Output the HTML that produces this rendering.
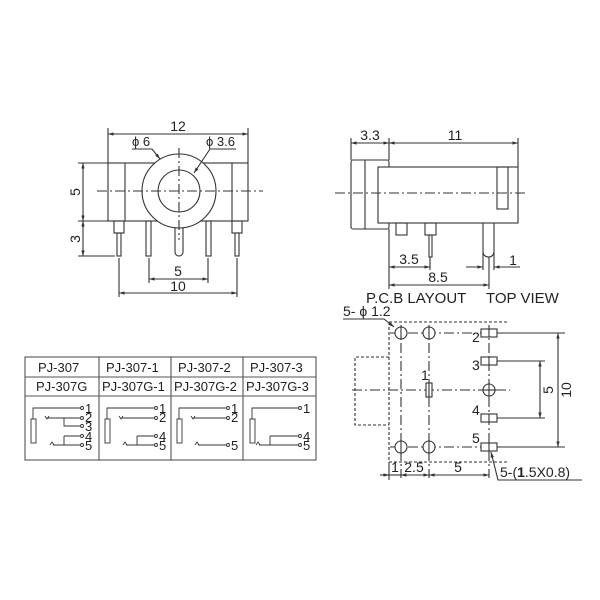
<!DOCTYPE html>
<html><head><style>body{margin:0;background:#fff}svg{display:block}</style></head><body>
<svg width="600" height="600" viewBox="0 0 600 600" xmlns="http://www.w3.org/2000/svg" font-family="Liberation Sans, sans-serif" fill="none" stroke="#333" stroke-width="1.1">
<defs>
<marker id="a" viewBox="0 0 10 10" refX="10" refY="5" markerWidth="7" markerHeight="5" orient="auto-start-reverse"><path d="M0,2 L10,5 L0,8z" fill="#333" stroke="none"/></marker>
</defs>
<rect width="600" height="600" fill="#fff" stroke="none"/>
<!-- FRONT VIEW -->
<g>
<rect x="108" y="163" width="140" height="58" fill="none"/>
<line x1="125" y1="163" x2="125" y2="221"/><line x1="232" y1="163" x2="232" y2="221"/>
<circle cx="179" cy="191" r="37" fill="#fff"/>
<circle cx="179" cy="191" r="21"/>
<line x1="97" y1="191" x2="263" y2="191" stroke-dasharray="10,3,2,3"/>
<line x1="179" y1="148" x2="179" y2="240" stroke-dasharray="10,3,2,3"/>
<rect x="114" y="221" width="10" height="12"/><rect x="117" y="233" width="4" height="23"/>
<rect x="232" y="221" width="10" height="12"/><rect x="235" y="233" width="4" height="23"/>
<rect x="146" y="221" width="5" height="35"/><rect x="206" y="221" width="5" height="35"/>
<path d="M175,228 V252 A4,4 0 0 0 183,252 V228"/>
<line x1="108" y1="163" x2="108" y2="128"/><line x1="248" y1="163" x2="248" y2="128"/>
<line x1="108" y1="134" x2="248" y2="134" marker-start="url(#a)" marker-end="url(#a)"/>
<text x="178" y="131" font-size="14" fill="#222" stroke="none" text-anchor="middle">12</text>
<line x1="78" y1="163" x2="108" y2="163"/><line x1="78" y1="221" x2="108" y2="221"/><line x1="78" y1="256" x2="115" y2="256"/>
<line x1="83" y1="163" x2="83" y2="221" marker-start="url(#a)" marker-end="url(#a)"/>
<line x1="83" y1="221" x2="83" y2="256" marker-start="url(#a)" marker-end="url(#a)"/>
<text x="80" y="192" font-size="14" fill="#222" stroke="none" text-anchor="middle" transform="rotate(-90 80 192)">5</text>
<text x="80" y="239" font-size="14" fill="#222" stroke="none" text-anchor="middle" transform="rotate(-90 80 239)">3</text>
<line x1="149" y1="258" x2="149" y2="283"/><line x1="208" y1="258" x2="208" y2="283"/>
<line x1="119" y1="258" x2="119" y2="297"/><line x1="237" y1="258" x2="237" y2="297"/>
<line x1="149" y1="279" x2="208" y2="279" marker-start="url(#a)" marker-end="url(#a)"/>
<line x1="119" y1="293" x2="237" y2="293" marker-start="url(#a)" marker-end="url(#a)"/>
<text x="178" y="276" font-size="14" fill="#222" stroke="none" text-anchor="middle">5</text>
<text x="178" y="291" font-size="14" fill="#222" stroke="none" text-anchor="middle">10</text>
<text x="132" y="146" font-size="13" fill="#222" stroke="none">ϕ 6</text>
<path d="M132,149 H152 L160,159" marker-end="url(#a)"/>
<text x="206" y="146" font-size="13" fill="#222" stroke="none">ϕ 3.6</text>
<path d="M236,149 H210 L194,173" marker-end="url(#a)"/>
</g>
<!-- SIDE VIEW -->
<g>
<rect x="351" y="160" width="38" height="69" rx="2"/>
<line x1="365" y1="160" x2="365" y2="229"/>
<rect x="378" y="167" width="140" height="56" fill="#fff"/>
<rect x="497" y="167" width="11" height="42"/>
<line x1="335" y1="193" x2="528" y2="193" stroke-dasharray="10,3,2,3"/>
<rect x="396" y="223" width="11" height="12"/>
<rect x="425" y="223" width="11" height="12"/><rect x="429" y="235" width="3" height="22"/>
<path d="M483,223 V252 A5.5,5 0 0 0 494,252 V223"/>
<line x1="351" y1="160" x2="351" y2="138"/><line x1="389" y1="160" x2="389" y2="138"/><line x1="518" y1="167" x2="518" y2="138"/>
<line x1="351" y1="143" x2="389" y2="143" marker-start="url(#a)" marker-end="url(#a)"/>
<line x1="389" y1="143" x2="518" y2="143" marker-start="url(#a)" marker-end="url(#a)"/>
<text x="370" y="140" font-size="14" fill="#222" stroke="none" text-anchor="middle">3.3</text>
<text x="455" y="140" font-size="14" fill="#222" stroke="none" text-anchor="middle">11</text>
<line x1="389" y1="229" x2="389" y2="289"/><line x1="430" y1="257" x2="430" y2="270"/><line x1="489" y1="257" x2="489" y2="289"/>
<line x1="483" y1="252" x2="483" y2="270"/><line x1="494" y1="252" x2="494" y2="270"/>
<line x1="389" y1="267" x2="430" y2="267" marker-start="url(#a)" marker-end="url(#a)"/>
<line x1="389" y1="285" x2="489" y2="285" marker-start="url(#a)" marker-end="url(#a)"/>
<line x1="466" y1="267" x2="483" y2="267" marker-end="url(#a)"/>
<line x1="520" y1="267" x2="494" y2="267" marker-end="url(#a)"/>
<text x="409" y="264" font-size="14" fill="#222" stroke="none" text-anchor="middle">3.5</text>
<text x="438" y="282" font-size="14" fill="#222" stroke="none" text-anchor="middle">8.5</text>
<text x="513" y="265" font-size="14" fill="#222" stroke="none" text-anchor="middle">1</text>
<text x="366" y="303" font-size="15" fill="#222" stroke="none">P.C.B LAYOUT</text>
<text x="486" y="303" font-size="15" fill="#222" stroke="none">TOP VIEW</text>
</g>
<!-- PCB LAYOUT -->
<g>
<line x1="389" y1="322" x2="507" y2="322" stroke-dasharray="3,2"/>
<line x1="389" y1="322" x2="389" y2="462" stroke-dasharray="3,2"/>
<line x1="389" y1="462" x2="507" y2="462" stroke-dasharray="3,2"/>
<path d="M389,357 H355 V425 H389" stroke-dasharray="3,2"/>
<line x1="352" y1="390" x2="510" y2="390" stroke-dasharray="10,3,2,3"/>
<line x1="390" y1="333" x2="498" y2="333" stroke-dasharray="10,3,2,3"/>
<line x1="390" y1="447" x2="498" y2="447" stroke-dasharray="10,3,2,3"/>
<line x1="401" y1="325" x2="401" y2="478" stroke-dasharray="10,3,2,3"/>
<line x1="429" y1="325" x2="429" y2="478" stroke-dasharray="10,3,2,3"/>
<line x1="489" y1="325" x2="489" y2="478" stroke-dasharray="10,3,2,3"/>
<g fill="#fff">
<circle cx="401" cy="333" r="6"/><circle cx="429" cy="333" r="6"/>
<circle cx="401" cy="447" r="6"/><circle cx="429" cy="447" r="6"/>
<circle cx="489" cy="390" r="6"/>
<rect x="426" y="383" width="6" height="14"/>
<rect x="481" y="329" width="16" height="8"/><rect x="481" y="357" width="16" height="8"/>
<rect x="481" y="414" width="16" height="8"/><rect x="481" y="443" width="16" height="8"/>
</g>
<line x1="401" y1="326" x2="401" y2="340"/><line x1="429" y1="326" x2="429" y2="340"/>
<line x1="401" y1="440" x2="401" y2="454"/><line x1="429" y1="440" x2="429" y2="454"/>
<line x1="482" y1="390" x2="496" y2="390"/><line x1="489" y1="383" x2="489" y2="397"/>
<line x1="429" y1="383" x2="429" y2="397"/>
<line x1="489" y1="329" x2="489" y2="337"/><line x1="489" y1="357" x2="489" y2="365"/><line x1="489" y1="414" x2="489" y2="422"/><line x1="489" y1="443" x2="489" y2="451"/>
<g font-size="14" fill="#222" stroke="none">
<text x="472" y="342">2</text><text x="472" y="370">3</text><text x="421" y="380">1</text><text x="472" y="415">4</text><text x="472" y="443">5</text>
</g>
<line x1="497" y1="333" x2="565" y2="333"/><line x1="497" y1="447" x2="565" y2="447"/>
<line x1="497" y1="361" x2="545" y2="361"/><line x1="497" y1="418" x2="545" y2="418"/>
<line x1="540" y1="361" x2="540" y2="418" marker-start="url(#a)" marker-end="url(#a)"/>
<line x1="558" y1="333" x2="558" y2="447" marker-start="url(#a)" marker-end="url(#a)"/>
<text x="553" y="390" font-size="14" fill="#222" stroke="none" text-anchor="middle" transform="rotate(-90 553 390)">5</text>
<text x="571" y="390" font-size="14" fill="#222" stroke="none" text-anchor="middle" transform="rotate(-90 571 390)">10</text>
<text x="343" y="316" font-size="14" fill="#222" stroke="none">5- ϕ 1.2</text>
<path d="M343,319 H384 L394,327" marker-end="url(#a)"/>
<line x1="380" y1="475" x2="389" y2="475" marker-end="url(#a)"/>
<line x1="389" y1="475" x2="401" y2="475"/>
<line x1="420" y1="475" x2="401" y2="475" marker-end="url(#a)"/>
<line x1="401" y1="475" x2="429" y2="475" marker-start="url(#a)" marker-end="url(#a)"/>
<line x1="429" y1="475" x2="489" y2="475" marker-start="url(#a)" marker-end="url(#a)"/>
<line x1="389" y1="462" x2="389" y2="480"/>
<text x="395" y="472" font-size="14" fill="#222" stroke="none" text-anchor="middle">1</text>
<text x="414" y="472" font-size="14" fill="#222" stroke="none" text-anchor="middle">2.5</text>
<text x="458" y="472" font-size="14" fill="#222" stroke="none" text-anchor="middle">5</text>
<path d="M582,480 H498 L491,452" marker-end="url(#a)"/>
<text x="500" y="477" font-size="14" fill="#222" stroke="none">5-(<tspan font-weight="bold">1</tspan>.5X0.8)</text>
</g>
<!-- TABLE -->
<g stroke="#555">
<rect x="25" y="357" width="291" height="103"/>
<line x1="25" y1="377" x2="316" y2="377"/><line x1="25" y1="396" x2="316" y2="396"/>
<line x1="99" y1="357" x2="99" y2="460"/><line x1="171" y1="357" x2="171" y2="460"/><line x1="243" y1="357" x2="243" y2="460"/>
</g>
<g font-size="13" fill="#222" stroke="none">
<text x="38" y="372">PJ-307</text><text x="106" y="372">PJ-307-1</text><text x="178" y="372">PJ-307-2</text><text x="250" y="372">PJ-307-3</text>
<text x="36" y="391">PJ-307G</text><text x="102" y="391">PJ-307G-1</text><text x="174" y="391">PJ-307G-2</text><text x="246" y="391">PJ-307G-3</text>
</g>
<g stroke-width="0.9">
<rect x="31" y="419" width="5" height="24"/>
<path d="M33,419 V408 H80"/><path d="M45,416 L47,419 L49,416 M48,418 H80"/>
<path d="M64,418 V426 H80"/><path d="M64,436 H80 M64,436 V445"/><path d="M50,445 L52,442 L54,445 M53,445 H80"/>
<circle cx="82" cy="408" r="1.5"/><circle cx="82" cy="418" r="1.5"/><circle cx="82" cy="426" r="1.5"/><circle cx="82" cy="436" r="1.5"/><circle cx="82" cy="445" r="1.5"/>
<rect x="105" y="419" width="5" height="24"/>
<path d="M107,419 V408 H154"/><path d="M119,416 L121,419 L123,416 M122,418 H154"/>
<path d="M137,436 H154 M137,436 V445"/><path d="M123,445 L125,442 L127,445 M126,445 H154"/>
<circle cx="156" cy="408" r="1.5"/><circle cx="156" cy="418" r="1.5"/><circle cx="156" cy="436" r="1.5"/><circle cx="156" cy="445" r="1.5"/>
<rect x="177" y="419" width="5" height="24"/>
<path d="M179,419 V408 H226"/><path d="M191,416 L193,419 L195,416 M194,418 H226"/>
<path d="M195,445 L197,442 L199,445 M198,445 H226"/>
<circle cx="228" cy="408" r="1.5"/><circle cx="228" cy="418" r="1.5"/><circle cx="228" cy="445" r="1.5"/>
<rect x="250" y="419" width="5" height="24"/>
<path d="M252,419 V408 H298"/>
<path d="M270,436 H298 M270,436 V445"/><path d="M256,445 L258,442 L260,445 M259,445 H298"/>
<circle cx="300" cy="408" r="1.5"/><circle cx="300" cy="436" r="1.5"/><circle cx="300" cy="445" r="1.5"/>
</g>
<g font-size="13" fill="#222" stroke="none">
<text x="85" y="413">1</text><text x="85" y="422">2</text><text x="85" y="431">3</text><text x="85" y="441">4</text><text x="85" y="450">5</text>
<text x="159" y="413">1</text><text x="159" y="422">2</text><text x="159" y="441">4</text><text x="159" y="450">5</text>
<text x="231" y="413">1</text><text x="231" y="422">2</text><text x="231" y="450">5</text>
<text x="303" y="413">1</text><text x="303" y="441">4</text><text x="303" y="450">5</text>
</g>
</svg>
</body></html>
